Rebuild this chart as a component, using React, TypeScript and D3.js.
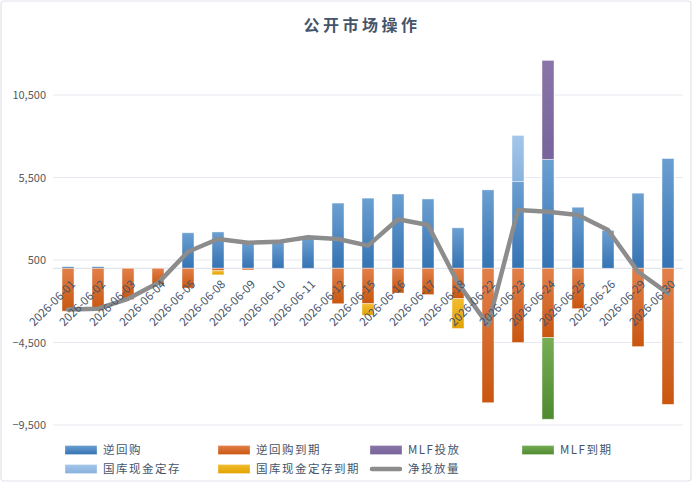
import React from 'react';
import * as d3 from 'd3';

const dates = [
  '2026-06-01', '2026-06-02', '2026-06-03', '2026-06-04', '2026-06-05',
  '2026-06-08', '2026-06-09', '2026-06-10', '2026-06-11', '2026-06-12',
  '2026-06-15', '2026-06-16', '2026-06-17', '2026-06-18', '2026-06-22',
  '2026-06-23', '2026-06-24', '2026-06-25', '2026-06-26', '2026-06-29',
  '2026-06-30',
];

// 逆回购
const reverseRepo = [100, 100, 0, 0, 2150, 2200, 1600, 1600, 1850, 3950, 4250, 4500, 4200, 2450, 4750, 5250, 6600, 3700, 2300, 4550, 6650];
// 逆回购到期
const reverseRepoDue = [-2600, -2550, -1900, -1000, -1200, -150, -100, 0, 0, -2150, -2150, -1500, -1600, -1850, -8150, -4500, -4200, -2450, 0, -4750, -8250];
// MLF投放
const mlfIssue = [0, 0, 0, 0, 0, 0, 0, 0, 0, 0, 0, 0, 0, 0, 0, 0, 6000, 0, 0, 0, 0];
// MLF到期
const mlfDue = [0, 0, 0, 0, 0, 0, 0, 0, 0, 0, 0, 0, 0, 0, 0, 0, -4950, 0, 0, 0, 0];
// 国库现金定存
const treasuryDeposit = [0, 0, 0, 0, 0, 0, 0, 0, 0, 0, 0, 0, 0, 0, 0, 2800, 0, 0, 0, 0, 0];
// 国库现金定存到期
const treasuryDue = [0, 0, 0, 0, 0, -250, 0, 0, 0, 0, -700, 0, 0, -1800, 0, 0, 0, 0, 0, 0, 0];
// 净投放量
const netInjection = [-2500, -2450, -1850, -900, 1000, 1770, 1550, 1600, 1880, 1770, 1370, 2970, 2620, -900, -3440, 3530, 3430, 3230, 2320, -210, -1520];

const yTicks = [-9500, -4500, 500, 5500, 10500];

const series = [
  { key: 'rr', name: '逆回购', values: reverseRepo, top: '#6b9fd1', bottom: '#3573b3' },
  { key: 'rrd', name: '逆回购到期', values: reverseRepoDue, top: '#e2804a', bottom: '#c9560f' },
  { key: 'mlf', name: 'MLF投放', values: mlfIssue, top: '#8a75a8', bottom: '#76649a' },
  { key: 'mlfd', name: 'MLF到期', values: mlfDue, top: '#76ad55', bottom: '#4f8a2f' },
  { key: 'td', name: '国库现金定存', values: treasuryDeposit, top: '#a4c6ea', bottom: '#88b2de' },
  { key: 'tdd', name: '国库现金定存到期', values: treasuryDue, top: '#f2bc30', bottom: '#e2a300' },
];

const font = '"Noto Sans CJK SC", "Noto Sans", sans-serif';

export default function App() {
  const width = 700;
  const height = 483;

  const x = d3.scaleBand<string>().domain(dates).range([53, 683]).paddingInner(0.6).paddingOuter(0.3);
  const y = d3.scaleLinear().domain([-9500, 13000]).range([425, 53.75]);

  const rows = dates.map((d, i) => {
    const r: Record<string, number | string> = { date: d };
    series.forEach(s => { r[s.key] = s.values[i]; });
    return r;
  });
  const stacked = d3.stack<any>()
    .keys(series.map(s => s.key))
    .offset(d3.stackOffsetDiverging)(rows);

  const line = d3.line<number>()
    .x((_, i) => (x(dates[i]) ?? 0) + x.bandwidth() / 2)
    .y(v => y(v))
    .curve(d3.curveLinear);

  const legendRows = [
    [series[0], series[1], series[2], series[3]],
    [series[4], series[5], null],
  ];
  const legendX = [65, 218, 370, 522];
  const legendY = [450, 469];

  return (
    <svg width={width} height={height} style={{ position: 'absolute', left: 0, top: 0, background: '#fff' }}>
      <defs>
        {series.map(s => (
          <linearGradient key={s.key} id={`g-${s.key}`} x1="0" y1="0" x2="0" y2="1">
            <stop offset="0%" stopColor={s.top} />
            <stop offset="100%" stopColor={s.bottom} />
          </linearGradient>
        ))}
      </defs>
      <rect x={1} y={1} width={690} height={480} rx={3} fill="#fff" stroke="#dfe3ea" strokeWidth={1.2} />

      <text x={362} y={31} textAnchor="middle" fontFamily={font} fontSize={16} fontWeight={700} fill="#44546a" letterSpacing={3.5}>
        公开市场操作
      </text>

      {yTicks.map(t => (
        <g key={t}>
          <line x1={53} x2={683} y1={y(t)} y2={y(t)} stroke="#e6e9f0" strokeWidth={1.2} />
          <text x={46} y={y(t) + 4} textAnchor="end" fontFamily={font} fontSize={11} fill="#595959">
            {d3.format(',')(t)}
          </text>
        </g>
      ))}
      <line x1={53} x2={683} y1={y(0)} y2={y(0)} stroke="#d9dde5" strokeWidth={1.2} />

      {stacked.map((layer, li) => (
        <g key={layer.key} fill={`url(#g-${series[li].key})`}>
          {layer.map((seg, i) => {
            const y0 = y(seg[0]);
            const y1 = y(seg[1]);
            const h = Math.abs(y0 - y1);
            if (h < 0.01) return null;
            return (
              <rect
                key={i}
                x={x(dates[i])}
                y={Math.min(y0, y1)}
                width={x.bandwidth()}
                height={h}
                stroke="#ffffff"
                strokeOpacity={0.55}
                strokeWidth={0.8}
              />
            );
          })}
        </g>
      ))}

      <path d={line(netInjection) ?? ''} fill="none" stroke="#8c8c8c" strokeWidth={4.5} strokeLinejoin="round" strokeLinecap="round" />

      {dates.map(d => {
        const cx = (x(d) ?? 0) + x.bandwidth() / 2 + 8;
        return (
          <text
            key={d}
            transform={`translate(${cx},${285}) rotate(-45)`}
            textAnchor="end"
            fontFamily={font}
            fontSize={11.5}
            fill="#44546a"
          >
            {d}
          </text>
        );
      })}

      {legendRows.map((row, ri) => row.map((s, ci) => {
        const lx = legendX[ci];
        const ly = legendY[ri];
        if (!s) {
          return (
            <g key={`net-${ri}-${ci}`}>
              <line x1={lx + 2} x2={lx + 30} y1={ly} y2={ly} stroke="#8c8c8c" strokeWidth={4.5} strokeLinecap="round" />
              <text x={lx + 38} y={ly + 4} fontFamily={font} fontSize={11.5} fill="#44546a" letterSpacing={1.5}>净投放量</text>
            </g>
          );
        }
        return (
          <g key={s.key}>
            <rect x={lx} y={ly - 4.5} width={32} height={9} fill={`url(#g-${s.key})`} stroke="#ffffff" strokeOpacity={0.5} strokeWidth={0.6} />
            <text x={lx + 38} y={ly + 4} fontFamily={font} fontSize={11.5} fill="#44546a" letterSpacing={1.5}>{s.name}</text>
          </g>
        );
      }))}
    </svg>
  );
}
